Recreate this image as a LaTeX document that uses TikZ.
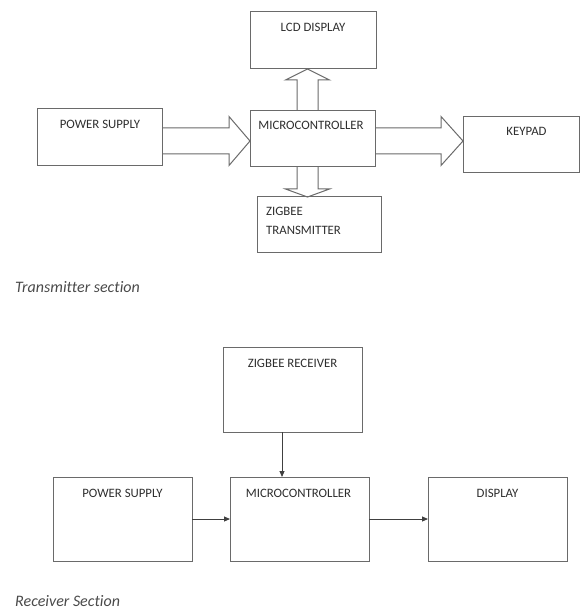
\documentclass[tikz,border=0pt]{standalone}
\usepackage{fontspec}
\setmainfont[Ligatures={NoCommon}]{Carlito}
\usetikzlibrary{calc,arrows.meta}
\definecolor{linegray}{HTML}{6A6A6A}
\definecolor{txtgray}{HTML}{2E2E2E}
\definecolor{capgray}{HTML}{4A4A4A}
\tikzset{
  box/.style={draw=linegray, line width=1pt, inner sep=0pt, outer sep=0pt, anchor=north west},
  lbl/.style={text=txtgray, font=\fontsize{12.8}{14}\selectfont, inner sep=0pt, anchor=base},
  lbll/.style={lbl, anchor=base west},
  capt/.style={text=capgray, font=\fontsize{16}{18}\selectfont\itshape, inner sep=0pt, anchor=base west},
  blk/.style={draw=linegray, line width=1pt, line join=miter},
  thin/.style={draw=black!75, line width=0.9pt, -{Triangle[length=6pt,width=5pt]}}
}
\begin{document}
\begin{tikzpicture}[x=1pt,y=-1pt]
\useasboundingbox (0,0) rectangle (579,609);
% ---------- Transmitter section ----------
\node[box, minimum width=126, minimum height=57] (lcd) at (250,12) {};
\node[box, minimum width=125, minimum height=57] (ps1) at (37,109) {};
\node[box, minimum width=125, minimum height=56] (mc1) at (250,111) {};
\node[box, minimum width=116, minimum height=56] (key) at (463,117) {};
\node[box, minimum width=124, minimum height=55] (zt) at (257,197) {};

\node[lbl] (tlcd) at ($(lcd.north)+(0,19.5)$) {LCD DISPLAY};
\node[lbl] (tps1) at ($(ps1.north)+(0.5,19.5)$) {POWER SUPPLY};
\node[lbl] (tmc1) at ($(mc1.north)+(-1.5,19)$) {MICROCONTROLLER};
\node[lbl] (tkey) at ($(key.north)+(5.5,19)$) {KEYPAD};
\node[lbll] (tzt1) at ($(zt.north west)+(9,18.5)$) {ZIGBEE};
\node[lbll] (tzt2) at ($(zt.north west)+(9,37.5)$) {TRANSMITTER};

% block arrow: power supply -> microcontroller
\draw[blk] let \p1=($(ps1.east)+(0,3.5)$), \p2=($(mc1.west)+(0,2)$) in
  (\x1,\y1+13pt) -- (\x2-21pt,\y1+13pt) -- (\x2-21pt,\y1+24.5pt) -- (\x2,\y1)
  -- (\x2-21pt,\y1-24.5pt) -- (\x2-21pt,\y1-13pt) -- (\x1,\y1-13pt);
% block arrow: microcontroller -> keypad
\draw[blk] let \p1=($(mc1.east)+(0,2)$), \p2=($(key.west)+(0,-4)$) in
  (\x1,\y1+13pt) -- (\x2-22pt,\y1+13pt) -- (\x2-22pt,\y1+24.5pt) -- (\x2,\y1)
  -- (\x2-22pt,\y1-24.5pt) -- (\x2-22pt,\y1-13pt) -- (\x1,\y1-13pt);
% block arrow: microcontroller -> LCD (up)
\draw[blk] let \p1=($(mc1.north)+(-5,0)$), \p2=($(lcd.south)+(-5,0)$) in
  (\x1-10.5pt,\y1) -- (\x1-10.5pt,\y2-11pt) -- (\x1-22pt,\y2-11pt) -- (\x1,\y2)
  -- (\x1+22pt,\y2-11pt) -- (\x1+10.5pt,\y2-11pt) -- (\x1+10.5pt,\y1);
% block arrow: microcontroller -> zigbee transmitter (down)
\draw[blk] let \p1=($(mc1.south)+(-5,0)$), \p2=($(zt.north)+(-11,0)$) in
  (\x1-10.5pt,\y1) -- (\x1-10.5pt,\y2+8pt) -- (\x1-22pt,\y2+8pt) -- (\x1,\y2)
  -- (\x1+22pt,\y2+8pt) -- (\x1+10.5pt,\y2+8pt) -- (\x1+10.5pt,\y1);

\node[capt] (tcap) at (15,292) {Transmitter section};

% ---------- Receiver section ----------
\node[box, minimum width=139, minimum height=85] (zr) at (223,347) {};
\node[box, minimum width=139, minimum height=84] (ps2) at (53,477) {};
\node[box, minimum width=139, minimum height=84] (mc2) at (230,477) {};
\node[box, minimum width=139, minimum height=84] (disp) at (428,477) {};

\node[lbl] (tzr) at ($(zr.north)+(0,20.5)$) {ZIGBEE RECEIVER};
\node[lbl] (tps2) at ($(ps2.north)+(0,20.5)$) {POWER SUPPLY};
\node[lbl] (tmc2) at ($(mc2.north)+(-1,20.5)$) {MICROCONTROLLER};
\node[lbl] (tdisp) at ($(disp.north)+(0,20.5)$) {DISPLAY};

\coordinate (rxv) at (282,0);
\draw[thin] (zr.south -| rxv) -- (mc2.north -| rxv);
\draw[thin] (ps2.east) -- (mc2.west);
\draw[thin] (mc2.east) -- (disp.west);

\node[capt] (rcap) at (15,606) {Receiver Section};
\end{tikzpicture}
\end{document}
